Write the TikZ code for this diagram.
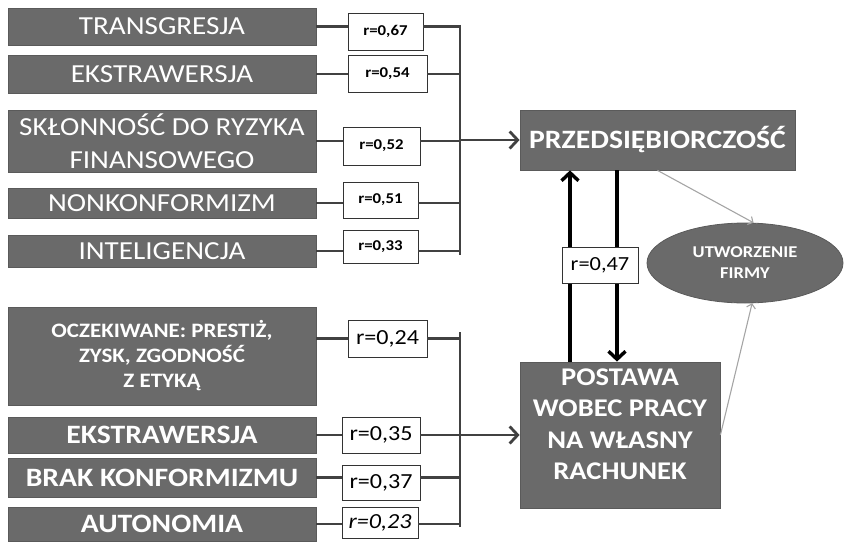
\documentclass[tikz,border=0pt]{standalone}
\usepackage{fontspec}
\setmainfont[FakeStretch=1.12]{Carlito}
\usepackage{tikz}
\usetikzlibrary{shapes,arrows,arrows.meta,positioning}

\definecolor{boxgray}{RGB}{106,106,106}
\definecolor{linkgray}{RGB}{65,65,65}
\definecolor{thingray}{RGB}{165,165,165}

\tikzset{
  factor/.style={draw=boxgray!85!black, fill=boxgray, text=white, line width=0.8pt,
    minimum width=308pt, inner sep=0pt, align=center},
  rbox/.style={draw=black!80, fill=white, line width=0.9pt, inner sep=0pt},
  link/.style={draw=linkgray, line width=2.8pt},
  barb/.style={-{Straight Barb[length=8pt,width=17pt]}},
}

\begin{document}
\begin{tikzpicture}[x=1pt,y=-1pt]
  \useasboundingbox (0,0) rectangle (845,543);

  % Upper group of traits
  \node[factor, minimum height=37pt, font=\fontsize{26}{30}\selectfont] (tr) at (162,26.5) {TRANSGRESJA};
  \node[factor, minimum height=38pt, font=\fontsize{26}{30}\selectfont] (ekA) at (162,74) {EKSTRAWERSJA};
  \node[factor, minimum height=62pt, font=\fontsize{26}{33}\selectfont] (sk) at (162,141) {SKŁONNOŚĆ DO RYZYKA\\FINANSOWEGO};
  \node[factor, minimum height=30pt, font=\fontsize{26}{30}\selectfont] (nk) at (162,203) {NONKONFORMIZM};
  \node[factor, minimum height=32pt, font=\fontsize{26}{30}\selectfont] (in) at (162,251) {INTELIGENCJA};

  % Correlations of the upper group
  \node[rbox, minimum width=75pt, minimum height=37pt, font=\bfseries\fontsize{15}{17}\selectfont] (rA) at (385.5,31.5) {r=0,67};
  \node[rbox, minimum width=79pt, minimum height=37pt, font=\bfseries\fontsize{15}{17}\selectfont] (rB) at (387.5,73.5) {r=0,54};
  \node[rbox, minimum width=77pt, minimum height=38pt, font=\bfseries\fontsize{15}{17}\selectfont] (rC) at (381.5,146) {r=0,52};
  \node[rbox, minimum width=75pt, minimum height=36pt, font=\bfseries\fontsize{15}{17}\selectfont] (rD) at (380.5,200) {r=0,51};
  \node[rbox, minimum width=75pt, minimum height=33pt, font=\bfseries\fontsize{15}{17}\selectfont] (rE) at (380.5,246.5) {r=0,33};

  % Lower group of traits
  \node[factor, minimum height=98pt, font=\bfseries\fontsize{20.5}{25}\selectfont] (oc) at (162,356) {OCZEKIWANE: PRESTIŻ,\\ZYSK, ZGODNOŚĆ\\Z ETYKĄ};
  \node[factor, minimum height=36pt, font=\bfseries\fontsize{26.5}{30}\selectfont] (ekB) at (162,435) {EKSTRAWERSJA};
  \node[factor, minimum height=39pt, font=\bfseries\fontsize{26.5}{30}\selectfont] (bk) at (162,477.5) {BRAK KONFORMIZMU};
  \node[factor, minimum height=34pt, font=\bfseries\fontsize{26.5}{30}\selectfont] (au) at (162,524) {AUTONOMIA};

  % Correlations of the lower group
  \node[rbox, minimum width=79pt, minimum height=37pt, font=\fontsize{21.5}{24}\selectfont] (rF) at (387.5,338.5) {r=0,24};
  \node[rbox, minimum width=78pt, minimum height=36pt, font=\fontsize{21.5}{24}\selectfont] (rG) at (381,435) {r=0,35};
  \node[rbox, minimum width=78pt, minimum height=35pt, font=\fontsize{21.5}{24}\selectfont] (rH) at (381,482.5) {r=0,37};
  \node[rbox, minimum width=76pt, minimum height=31pt, font=\itshape\fontsize{21.5}{24}\selectfont] (rI) at (380,522.5) {r=0,23};

  % Collecting bars
  \coordinate (barAtop) at (460,25);
  \coordinate (barAbot) at (460,255);
  \coordinate (barAmid) at (460,140);
  \coordinate (barBtop) at (460,332);
  \coordinate (barBbot) at (460,527);
  \coordinate (barBmid) at (460,435);

  % Outcomes
  \node[factor, minimum width=275pt, minimum height=60pt, font=\bfseries\fontsize{26.5}{30}\selectfont] (pr) at (657.5,140) {PRZEDSIĘBIORCZOŚĆ};
  \node[factor, minimum width=200pt, minimum height=146pt] (po) at (620,435) {};
  \node[text=white, align=center, font=\bfseries\fontsize{25.5}{31.5}\selectfont] (potext) at ([yshift=11pt]po.center) {POSTAWA\\WOBEC PRACY\\NA WŁASNY\\RACHUNEK};
  \node[factor, ellipse, minimum width=196pt, minimum height=80pt, font=\bfseries\fontsize{16.5}{21}\selectfont] (uf) at (745,263) {UTWORZENIE\\FIRMY};

  % Links of the upper group
  \draw[link] (tr.east) -- (tr.east -| rA.west);
  \draw[link] (rA.east |- tr.east) -- (tr.east -| barAtop);
  \draw[link] (ekA.east) -- (ekA.east -| rB.west);
  \draw[link] (rB.east |- ekA.east) -- (ekA.east -| barAtop);
  \draw[link] (sk.east) -- (sk.east -| rC.west);
  \draw[link] (rC.east |- sk.east) -- (sk.east -| barAtop);
  \draw[link] (nk.east) -- (nk.east -| rD.west);
  \draw[link] (rD.east |- nk.east) -- (nk.east -| barAtop);
  \draw[link] (in.east) -- (in.east -| rE.west);
  \draw[link] (rE.east |- in.east) -- (in.east -| barAtop);
  \draw[link] (barAtop) -- (barAbot);
  \draw[link, barb] (barAmid) -- (pr.west);

  % Links of the lower group
  \draw[link] (oc.east |- rF.west) -- (rF.west);
  \draw[link] (rF.east) -- (rF.east -| barBtop);
  \draw[link] (ekB.east) -- (ekB.east -| rG.west);
  \draw[link] (rG.east |- ekB.east) -- (ekB.east -| barBtop);
  \draw[link] (bk.east) -- (bk.east -| rH.west);
  \draw[link] (rH.east |- bk.east) -- (bk.east -| barBtop);
  \draw[link] (au.east) -- (au.east -| rI.west);
  \draw[link] (rI.east |- au.east) -- (au.east -| barBtop);
  \draw[link] (barBtop) -- (barBbot);
  \draw[link, barb] (barBmid) -- (po.west);

  % Mutual relation
  \draw[black, line width=3.4pt, barb] (po.north -| 570,0) -- (pr.south -| 570,0);
  \draw[black, line width=3.4pt, barb] (pr.south -| 617,0) -- (po.north -| 617,0);
  \node[rbox, minimum width=76pt, minimum height=36pt, font=\fontsize{20}{22}\selectfont] (rJ) at (600,265) {r=0,47};

  % Towards the firm
  \draw[thingray, line width=1.1pt, -{Straight Barb[length=4pt,width=9pt]}] (pr.south) -- (uf.78);
  \draw[thingray, line width=1.1pt, -{Straight Barb[length=4pt,width=9pt]}] (po.east) -- (uf.-80);
\end{tikzpicture}
\end{document}
